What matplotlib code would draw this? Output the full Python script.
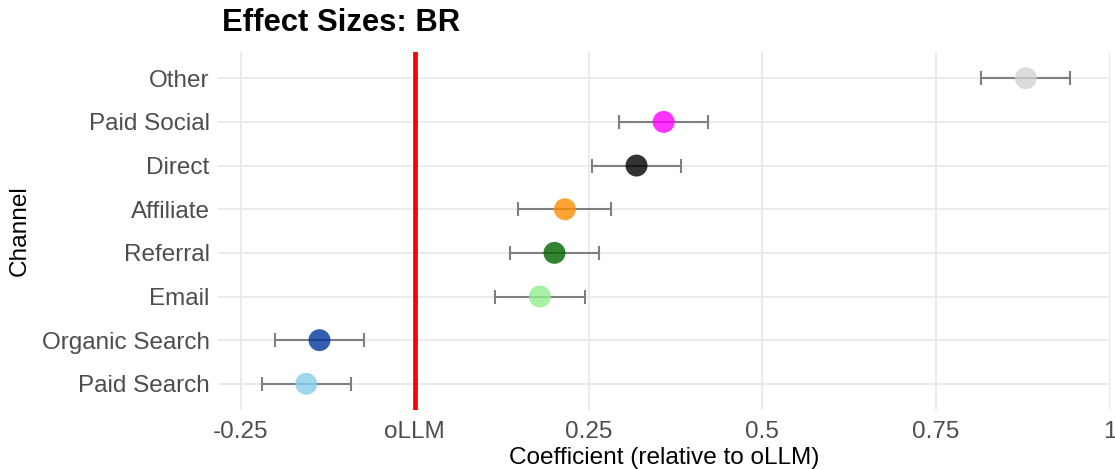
import matplotlib
matplotlib.use("Agg")
import matplotlib.pyplot as plt
import numpy as np

channels = ["Paid Search", "Organic Search", "Email", "Referral", "Affiliate", "Direct", "Paid Social", "Other"]
estimates = [-0.156, -0.137, 0.180, 0.201, 0.216, 0.319, 0.358, 0.879]
ci_half = [0.064, 0.064, 0.065, 0.064, 0.067, 0.064, 0.064, 0.064]
colors = ["#87CEEB", "#00349A", "#90EE90", "#006400", "#FF8C00", "#000000", "#FF00FF", "#D3D3D3"]
xticks = [-0.25, 0, 0.25, 0.5, 0.75, 1.0]
xticklabels = ["-0.25", "oLLM", "0.25", "0.5", "0.75", "1"]

plt.rcParams['font.family'] = ['Liberation Sans', 'DejaVu Sans']

fig = plt.figure(figsize=(11.15, 4.69), dpi=100)
ax = fig.add_axes([0.1955, 0.1258, 0.800, 0.7632])

y = np.arange(1, len(channels) + 1)
ax.errorbar(estimates, y, xerr=ci_half, fmt="none", ecolor="#7F7F7F",
            elinewidth=1.5, capsize=5, capthick=1.5, zorder=3)
ax.axvline(0, color="#FF0000", lw=3.4, zorder=2)
ax.scatter(estimates, y, s=250, c=colors, alpha=0.8, edgecolors="none", zorder=4)

ax.set_xlim(-0.283, 1.0)
ax.set_ylim(0.4, len(channels) + 0.6)
ax.set_xticks(xticks)
ax.set_xticklabels(xticklabels)
ax.set_yticks(y)
ax.set_yticklabels(channels)

ax.grid(True, color="#EBEBEB", lw=1.4, zorder=0)
ax.set_axisbelow(True)
for s in ax.spines.values():
    s.set_visible(False)
ax.tick_params(length=0, labelsize=17.5, labelcolor="#4D4D4D")
ax.tick_params(axis="x", pad=8)
ax.tick_params(axis="y", pad=6)

ax.set_xlabel("Coefficient (relative to oLLM)", fontsize=17.6, color="black", labelpad=3)
ax.set_ylabel("Channel", fontsize=17.6, color="black", labelpad=8)
fig.text(0.1990, 0.950, "Effect Sizes: BR", fontsize=22.3, fontweight="bold", ha="left", va="center")

fig.savefig("out.png", dpi=100)
